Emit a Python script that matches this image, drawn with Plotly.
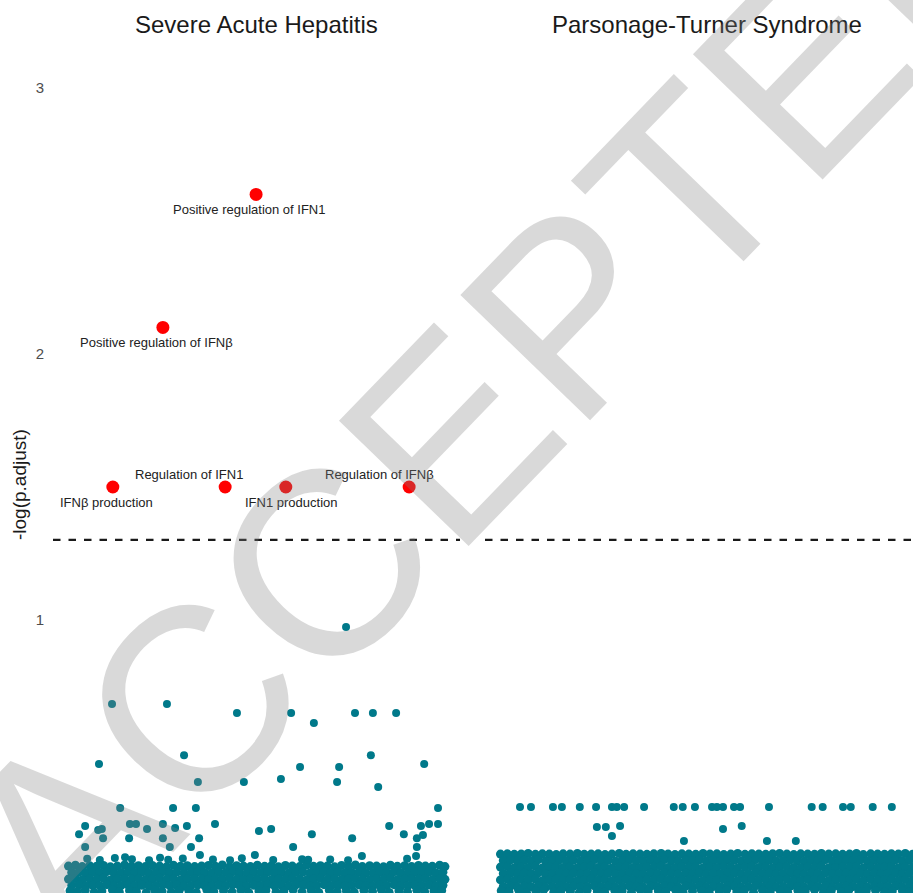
import math
import plotly.graph_objects as go

FONT = "Liberation Sans, Arial, Helvetica, sans-serif"

# ---------------- data ----------------
panel_titles = ["Severe Acute Hepatitis", "Parsonage-Turner Syndrome"]
y_axis_title = "-log(p.adjust)"
y_ticks = [0, 1, 2, 3]
p_cutoff = 0.05
watermark_text = "ACCEPTED"

# significant terms (Severe Acute Hepatitis panel)
sig_terms = ["Positive regulation of IFN1", "Positive regulation of IFNβ", "IFNβ production",
             "Regulation of IFN1", "IFN1 production", "Regulation of IFNβ"]
sig_rank = [49.9, 27.0, 14.7, 42.3, 57.2, 87.5]
sig_logp = [2.60, 2.10, 1.50, 1.50, 1.50, 1.50]

# non-significant terms, Severe Acute Hepatitis (scattered above the dense band)
sah_x = [14.5, 28.0, 45.2, 58.5, 64.1, 74.2, 78.6, 84.3,
         11.3, 32.2, 78.1, 91.2,
         35.6, 46.9, 56.0, 60.7, 70.3, 69.8, 79.9,
         16.5, 29.5, 35.1, 94.6,
         7.9, 6.4, 11.1, 12.0, 12.3, 18.9, 20.4, 23.1, 18.7, 27.0, 30.0, 32.9, 27.0, 35.9, 39.8,
         28.7, 33.9, 7.9, 36.1, 50.6, 53.6, 63.6, 59.0, 73.5, 82.6, 86.2, 90.4, 92.4, 94.6,
         90.9, 89.4, 89.4, 89.2, 49.6, 87.0, 75.9, 72.0]
sah_y = [0.684, 0.684, 0.650, 0.650, 0.613, 0.650, 0.650, 0.650,
         0.459, 0.492, 0.492, 0.459,
         0.391, 0.391, 0.402, 0.447, 0.447, 0.391, 0.372,
         0.293, 0.293, 0.293, 0.293,
         0.226, 0.195, 0.211, 0.214, 0.180, 0.233, 0.233, 0.214, 0.180, 0.233, 0.218, 0.226, 0.180, 0.180, 0.233,
         0.147, 0.147, 0.147, 0.117, 0.207, 0.214, 0.195, 0.147, 0.180, 0.226, 0.195, 0.226, 0.233, 0.233,
         0.192, 0.180, 0.147, 0.113, 0.117, 0.102, 0.113, 0.974]

# points just on top of the dense band, Severe Acute Hepatitis
sah_edge_x = [8.4, 11.5, 15.2, 17.7, 19.4, 23.6, 26.3, 28.3, 31.9, 39.3, 43.5, 46.4, 54.1, 61.2, 62.7, 68.1, 72.5]
sah_edge_y = [0.102, 0.098, 0.105, 0.108, 0.101, 0.097, 0.106, 0.099, 0.103, 0.100, 0.097, 0.104, 0.098, 0.101,
              0.099, 0.100, 0.097]

# dense band of terms near zero, Severe Acute Hepatitis
sah_band_xa = [3.8, 5.5, 7.2, 9.0, 10.7, 12.4, 14.1, 15.8, 17.6, 19.3, 21.0, 22.7, 24.4, 26.2, 27.9, 29.6, 31.3,
               33.0, 34.8, 36.5, 38.2, 39.9, 41.6, 43.4, 45.1, 46.8, 48.5, 50.2, 52.0, 53.7, 55.4, 57.1, 58.8,
               60.6, 62.3, 64.0, 65.7, 67.4, 69.2, 70.9, 72.6, 74.3, 76.0, 77.8, 79.5, 81.2, 82.9, 84.6, 86.4,
               88.1, 89.8, 91.5, 93.2, 95.0, 96.3]
sah_band_xb = [4.6, 6.4, 8.1, 9.8, 11.5, 13.2, 15.0, 16.7, 18.4, 20.1, 21.8, 23.6, 25.3, 27.0, 28.7, 30.4, 32.2,
               33.9, 35.6, 37.3, 39.0, 40.8, 42.5, 44.2, 45.9, 47.6, 49.4, 51.1, 52.8, 54.5, 56.2, 58.0, 59.7,
               61.4, 63.1, 64.8, 66.6, 68.3, 70.0, 71.7, 73.4, 75.2, 76.9, 78.6, 80.3, 82.0, 83.8, 85.5, 87.2,
               88.9, 90.6, 92.4, 94.1, 95.8]
sah_band_xc = [4.2, 6.0, 7.9, 10.1, 12.0, 14.6, 16.3, 18.8, 20.5, 22.9, 25.0, 26.8, 29.1, 31.0, 33.4, 35.2, 37.8,
               39.5, 41.9, 44.0, 46.2, 48.1, 50.6, 52.3, 54.8, 56.7, 59.0, 61.2, 63.5, 65.3, 67.9, 69.8, 72.1,
               74.0, 76.4, 78.5, 80.7, 82.6, 85.0, 87.1, 89.4, 91.3, 93.6, 95.5]
sah_band_y1 = [0.075, 0.078, 0.073, 0.076, 0.074, 0.077, 0.072, 0.075, 0.079, 0.074,
               0.076, 0.073, 0.077, 0.075, 0.072, 0.078, 0.074, 0.076, 0.073, 0.075,
               0.077, 0.074, 0.079, 0.072, 0.076, 0.075, 0.073, 0.078, 0.074, 0.076,
               0.072, 0.077, 0.075, 0.073, 0.078, 0.074, 0.076, 0.075, 0.072, 0.077,
               0.074, 0.079, 0.073, 0.076, 0.075, 0.072, 0.078, 0.074, 0.076, 0.073,
               0.077, 0.075, 0.074, 0.078, 0.073]
sah_band_y2 = [0.051, 0.053, 0.049, 0.052, 0.050, 0.054, 0.048, 0.051, 0.053, 0.050,
               0.052, 0.049, 0.051, 0.054, 0.050, 0.052, 0.048, 0.051, 0.053, 0.050,
               0.049, 0.052, 0.051, 0.054, 0.050, 0.048, 0.052, 0.051, 0.053, 0.049,
               0.051, 0.050, 0.053, 0.052, 0.048, 0.051, 0.054, 0.050, 0.052, 0.049,
               0.051, 0.053, 0.050, 0.048, 0.052, 0.051, 0.054, 0.049, 0.050, 0.052,
               0.051, 0.053, 0.049, 0.052]
sah_band_y3 = [0.026, 0.028, 0.024, 0.027, 0.025, 0.029, 0.023, 0.026, 0.028, 0.025,
               0.027, 0.024, 0.026, 0.029, 0.025, 0.027, 0.023, 0.026, 0.028, 0.025,
               0.024, 0.027, 0.026, 0.029, 0.025, 0.023, 0.027, 0.026, 0.028, 0.024,
               0.026, 0.025, 0.028, 0.027, 0.023, 0.026, 0.029, 0.025, 0.027, 0.024,
               0.026, 0.028, 0.025, 0.023, 0.027, 0.026, 0.029, 0.024, 0.025, 0.027,
               0.026, 0.028, 0.024, 0.027, 0.025]
sah_band_y4 = [0.002, 0.004, 0.000, 0.003, 0.001, 0.005, -0.001, 0.002, 0.004, 0.001,
               0.003, 0.000, 0.002, 0.005, 0.001, 0.003, -0.001, 0.002, 0.004, 0.001,
               0.000, 0.003, 0.002, 0.005, 0.001, -0.001, 0.003, 0.002, 0.004, 0.000,
               0.002, 0.001, 0.004, 0.003, -0.001, 0.002, 0.005, 0.001, 0.003, 0.000,
               0.002, 0.004, 0.001, -0.001, 0.003, 0.002, 0.005, 0.000, 0.001, 0.003,
               0.002, 0.004, 0.000, 0.003]
sah_band_y5 = [-0.018, -0.022, -0.016, -0.024, -0.019, -0.015, -0.023, -0.017, -0.021, -0.025,
               -0.016, -0.020, -0.023, -0.017, -0.019, -0.024, -0.015, -0.021, -0.018, -0.022,
               -0.016, -0.025, -0.019, -0.017, -0.023, -0.020, -0.015, -0.022, -0.018, -0.024,
               -0.016, -0.021, -0.019, -0.023, -0.017, -0.020, -0.015, -0.024, -0.018, -0.022,
               -0.016, -0.021, -0.019, -0.017]

# non-significant terms, Parsonage-Turner Syndrome (scattered above the dense band)
pts_x = [8.6, 11.3, 16.7, 18.9, 23.3, 27.3, 31.2, 32.4, 34.2, 39.1, 46.4, 48.6, 51.6, 55.8, 57.0, 58.5,
         61.2, 62.7, 69.8, 80.3, 83.0, 88.0, 89.9, 95.3, 100.0,
         27.5, 29.7, 33.2, 31.2, 58.5, 63.1, 48.9, 69.3, 76.4]
pts_y = [0.297, 0.297, 0.297, 0.297, 0.297, 0.297, 0.297, 0.297, 0.297, 0.297, 0.297, 0.297, 0.297, 0.297,
         0.297, 0.297, 0.297, 0.297, 0.297, 0.297, 0.297, 0.297, 0.297, 0.297, 0.297,
         0.222, 0.222, 0.226, 0.188, 0.214, 0.226, 0.169, 0.169, 0.169]

# dense band of terms near zero, Parsonage-Turner Syndrome
pts_band_xa = [3.8, 5.5, 7.2, 8.9, 10.6, 12.4, 14.1, 15.8, 17.5, 19.2, 20.9, 22.7, 24.4, 26.1, 27.8, 29.5,
               31.2, 33.0, 34.7, 36.4, 38.1, 39.8, 41.5, 43.3, 45.0, 46.7, 48.4, 50.1, 51.8, 53.6, 55.3,
               57.0, 58.7, 60.4, 62.1, 63.9, 65.6, 67.3, 69.0, 70.7, 72.4, 74.2, 75.9, 77.6, 79.3, 81.0,
               82.7, 84.5, 86.2, 87.9, 89.6, 91.3, 93.0, 94.8, 96.5, 98.2, 99.9, 101.6, 103.3, 105.1]
pts_band_xb = [4.5, 6.3, 8.0, 9.7, 11.4, 13.1, 14.9, 16.6, 18.3, 20.0, 21.7, 23.5, 25.2, 26.9, 28.6, 30.3,
               32.1, 33.8, 35.5, 37.2, 38.9, 40.7, 42.4, 44.1, 45.8, 47.5, 49.3, 51.0, 52.7, 54.4, 56.1,
               57.9, 59.6, 61.3, 63.0, 64.7, 66.5, 68.2, 69.9, 71.6, 73.3, 75.1, 76.8, 78.5, 80.2, 81.9,
               83.7, 85.4, 87.1, 88.8, 90.5, 92.3, 94.0, 95.7, 97.4, 99.1, 100.9, 102.6, 104.3]
pts_band_xc = [4.0, 5.9, 8.3, 10.2, 12.5, 14.4, 16.9, 18.7, 21.0, 23.2, 25.1, 27.6, 29.4, 31.9, 33.7, 36.0,
               38.2, 40.1, 42.6, 44.4, 46.9, 48.7, 51.0, 53.2, 55.1, 57.6, 59.4, 61.9, 63.7, 66.0, 68.2,
               70.1, 72.6, 74.4, 76.9, 78.7, 81.0, 83.2, 85.1, 87.6, 89.4, 91.9, 93.7, 96.0, 98.2, 100.1,
               102.6, 104.4]
pts_band_y1 = [0.120, 0.121, 0.119, 0.120, 0.122, 0.119, 0.121, 0.120, 0.118, 0.121,
               0.120, 0.122, 0.119, 0.120, 0.121, 0.118, 0.120, 0.122, 0.119, 0.121,
               0.120, 0.119, 0.121, 0.122, 0.120, 0.118, 0.121, 0.120, 0.119, 0.122,
               0.120, 0.121, 0.118, 0.120, 0.122, 0.119, 0.121, 0.120, 0.119, 0.121,
               0.122, 0.120, 0.118, 0.121, 0.120, 0.119, 0.122, 0.120, 0.121, 0.119,
               0.120, 0.122, 0.118, 0.121, 0.120, 0.119, 0.121, 0.120, 0.122, 0.119]
pts_band_y2 = [0.096, 0.098, 0.094, 0.097, 0.095, 0.099, 0.093, 0.096, 0.098, 0.095,
               0.097, 0.094, 0.096, 0.099, 0.095, 0.097, 0.093, 0.096, 0.098, 0.095,
               0.094, 0.097, 0.096, 0.099, 0.095, 0.093, 0.097, 0.096, 0.098, 0.094,
               0.096, 0.095, 0.098, 0.097, 0.093, 0.096, 0.099, 0.095, 0.097, 0.094,
               0.096, 0.098, 0.095, 0.093, 0.097, 0.096, 0.099, 0.094, 0.095, 0.097,
               0.096, 0.098, 0.094, 0.097, 0.095, 0.096, 0.098, 0.094, 0.097]
pts_band_y3 = [0.071, 0.073, 0.069, 0.072, 0.070, 0.074, 0.068, 0.071, 0.073, 0.070,
               0.072, 0.069, 0.071, 0.074, 0.070, 0.072, 0.068, 0.071, 0.073, 0.070,
               0.069, 0.072, 0.071, 0.074, 0.070, 0.068, 0.072, 0.071, 0.073, 0.069,
               0.071, 0.070, 0.073, 0.072, 0.068, 0.071, 0.074, 0.070, 0.072, 0.069,
               0.071, 0.073, 0.070, 0.068, 0.072, 0.071, 0.074, 0.069, 0.070, 0.072,
               0.071, 0.073, 0.069, 0.072, 0.070, 0.071, 0.073, 0.069, 0.072, 0.070]
pts_band_y4 = [0.047, 0.049, 0.045, 0.048, 0.046, 0.050, 0.044, 0.047, 0.049, 0.046,
               0.048, 0.045, 0.047, 0.050, 0.046, 0.048, 0.044, 0.047, 0.049, 0.046,
               0.045, 0.048, 0.047, 0.050, 0.046, 0.044, 0.048, 0.047, 0.049, 0.045,
               0.047, 0.046, 0.049, 0.048, 0.044, 0.047, 0.050, 0.046, 0.048, 0.045,
               0.047, 0.049, 0.046, 0.044, 0.048, 0.047, 0.050, 0.045, 0.046, 0.048,
               0.047, 0.049, 0.045, 0.048, 0.046, 0.047, 0.049, 0.045, 0.048]
pts_band_y5 = [0.023, 0.025, 0.021, 0.024, 0.022, 0.026, 0.020, 0.023, 0.025, 0.022,
               0.024, 0.021, 0.023, 0.026, 0.022, 0.024, 0.020, 0.023, 0.025, 0.022,
               0.021, 0.024, 0.023, 0.026, 0.022, 0.020, 0.024, 0.023, 0.025, 0.021,
               0.023, 0.022, 0.025, 0.024, 0.020, 0.023, 0.026, 0.022, 0.024, 0.021,
               0.023, 0.025, 0.022, 0.020, 0.024, 0.023, 0.026, 0.021, 0.022, 0.024,
               0.023, 0.025, 0.021, 0.024, 0.022, 0.023, 0.025, 0.021, 0.024, 0.022]
pts_band_y6 = [-0.002, 0.000, -0.004, -0.001, -0.003, 0.001, -0.005, -0.002, 0.000, -0.003,
               -0.001, -0.004, -0.002, 0.001, -0.003, -0.001, -0.005, -0.002, 0.000, -0.003,
               -0.004, -0.001, -0.002, 0.001, -0.003, -0.005, -0.001, -0.002, 0.000, -0.004,
               -0.002, -0.003, 0.000, -0.001, -0.005, -0.002, 0.001, -0.003, -0.001, -0.004,
               -0.002, 0.000, -0.003, -0.005, -0.001, -0.002, 0.001, -0.004, -0.003, -0.001,
               -0.002, 0.000, -0.004, -0.001, -0.003, -0.002, 0.000, -0.004, -0.001]
pts_band_y7 = [-0.018, -0.022, -0.016, -0.024, -0.019, -0.015, -0.023, -0.017, -0.021, -0.025,
               -0.016, -0.020, -0.023, -0.017, -0.019, -0.024, -0.015, -0.021, -0.018, -0.022,
               -0.016, -0.025, -0.019, -0.017, -0.023, -0.020, -0.015, -0.022, -0.018, -0.024,
               -0.016, -0.021, -0.019, -0.023, -0.017, -0.020, -0.015, -0.024, -0.018, -0.022,
               -0.016, -0.021, -0.019, -0.017, -0.023, -0.020, -0.018, -0.022]

# ---------------- assemble ----------------
sah_rows = [(sah_band_xa, sah_band_y1), (sah_band_xb, sah_band_y2), (sah_band_xa, sah_band_y3),
            (sah_band_xb, sah_band_y4), (sah_band_xc, sah_band_y5)]
pts_rows = [(pts_band_xa, pts_band_y1), (pts_band_xb, pts_band_y2), (pts_band_xa, pts_band_y3),
            (pts_band_xb, pts_band_y4), (pts_band_xa, pts_band_y5), (pts_band_xb, pts_band_y6),
            (pts_band_xc, pts_band_y7)]


def collect(rows):
    xs, ys = [], []
    for rx, ry in rows:
        for a, b in zip(rx, ry):
            xs.append(a)
            ys.append(b)
    return xs, ys


left_band_x, left_band_y = collect(sah_rows)
right_band_x, right_band_y = collect(pts_rows)
left_x, left_y = collect([(sah_edge_x, sah_edge_y), (sah_x, sah_y)])

TEAL = "#00798A"
RED = "#FF0000"
W, H = 913, 893

fig = go.Figure()
fig.add_trace(go.Scatter(x=left_band_x, y=left_band_y, mode="markers", xaxis="x", yaxis="y",
                         marker=dict(size=9, color=TEAL, line=dict(width=0)),
                         hoverinfo="skip", showlegend=False))
fig.add_trace(go.Scatter(x=left_x, y=left_y, mode="markers", xaxis="x", yaxis="y",
                         marker=dict(size=8, color=TEAL, line=dict(width=0)),
                         hoverinfo="skip", showlegend=False))
fig.add_trace(go.Scatter(x=right_band_x, y=right_band_y, mode="markers", xaxis="x2", yaxis="y2",
                         marker=dict(size=9, color=TEAL, line=dict(width=0)),
                         hoverinfo="skip", showlegend=False))
fig.add_trace(go.Scatter(x=pts_x, y=pts_y, mode="markers", xaxis="x2", yaxis="y2",
                         marker=dict(size=8, color=TEAL, line=dict(width=0)),
                         hoverinfo="skip", showlegend=False))
fig.add_trace(go.Scatter(x=sig_rank, y=sig_logp, mode="markers", xaxis="x", yaxis="y",
                         marker=dict(size=13, color=RED, line=dict(width=0)),
                         text=sig_terms, hoverinfo="text", showlegend=False))

# label placement (pixel offsets from the points, like ggrepel)
label_offsets = [(-7.5, -15), (-6, -15), (-6, -15), (-36, 13), (6, -15), (-30, 13)]
annotations = []
for term, xv, yv, (dx, dy) in zip(sig_terms, sig_rank, sig_logp, label_offsets):
    annotations.append(dict(x=xv, y=yv, xref="x", yref="y", text=term, showarrow=False,
                            xshift=dx, yshift=dy, xanchor="center", yanchor="middle",
                            font=dict(family=FONT, size=13, color="#222222")))

# facet titles
title_px = [256.5, 707]
for t, px in zip(panel_titles, title_px):
    annotations.append(dict(x=px / W, y=1 - 24 / H, xref="paper", yref="paper", text=t,
                            showarrow=False, xanchor="center", yanchor="middle",
                            font=dict(family=FONT, size=24, color="#1a1a1a")))

# y axis title
annotations.append(dict(x=19 / W, y=1 - 485 / H, xref="paper", yref="paper", text=y_axis_title,
                        showarrow=False, textangle=-90, xanchor="center", yanchor="middle",
                        font=dict(family=FONT, size=19, color="#1a1a1a")))

# watermark
annotations.append(dict(x=500 / W, y=1 - 384 / H, xref="paper", yref="paper", text=watermark_text,
                        showarrow=False, textangle=-46, xanchor="center", yanchor="middle",
                        font=dict(family=FONT, size=262, color="rgba(128,128,128,0.3)")))

thr = -math.log10(p_cutoff)
shapes = []
for xr, yr in [("x domain", "y"), ("x2 domain", "y2")]:
    shapes.append(dict(type="line", xref=xr, yref=yr, x0=0, x1=1, y0=thr, y1=thr,
                       line=dict(color="#1a1a1a", width=2.2, dash="7.5px,8px")))

y_range = [-0.0263, 3.331]
fig.update_layout(
    width=W, height=H,
    margin=dict(l=0, r=0, t=0, b=0),
    paper_bgcolor="white", plot_bgcolor="white",
    font=dict(family=FONT),
    xaxis=dict(domain=[53 / W, 460 / W], range=[0, 100], visible=False, fixedrange=True),
    xaxis2=dict(domain=[485 / W, 1.0], range=[0, 105.2], visible=False, fixedrange=True),
    yaxis=dict(range=y_range, tickvals=y_ticks, ticktext=[str(v) for v in y_ticks],
               showgrid=False, zeroline=False, showline=False, ticks="",
               tickfont=dict(family=FONT, size=15, color="#4D4D4D"),
               ticklabelstandoff=8, automargin=False, anchor="x", fixedrange=True),
    yaxis2=dict(range=y_range, showgrid=False, zeroline=False, showline=False,
                showticklabels=False, ticks="", anchor="x2", automargin=False, fixedrange=True),
    annotations=annotations,
    shapes=shapes,
    showlegend=False,
)

fig.write_html("out.html",
               config={"displayModeBar": False, "staticPlot": True},
               post_script="document.body.style.margin='0';document.body.style.padding='0';"
                           "document.body.style.overflow='hidden';")
